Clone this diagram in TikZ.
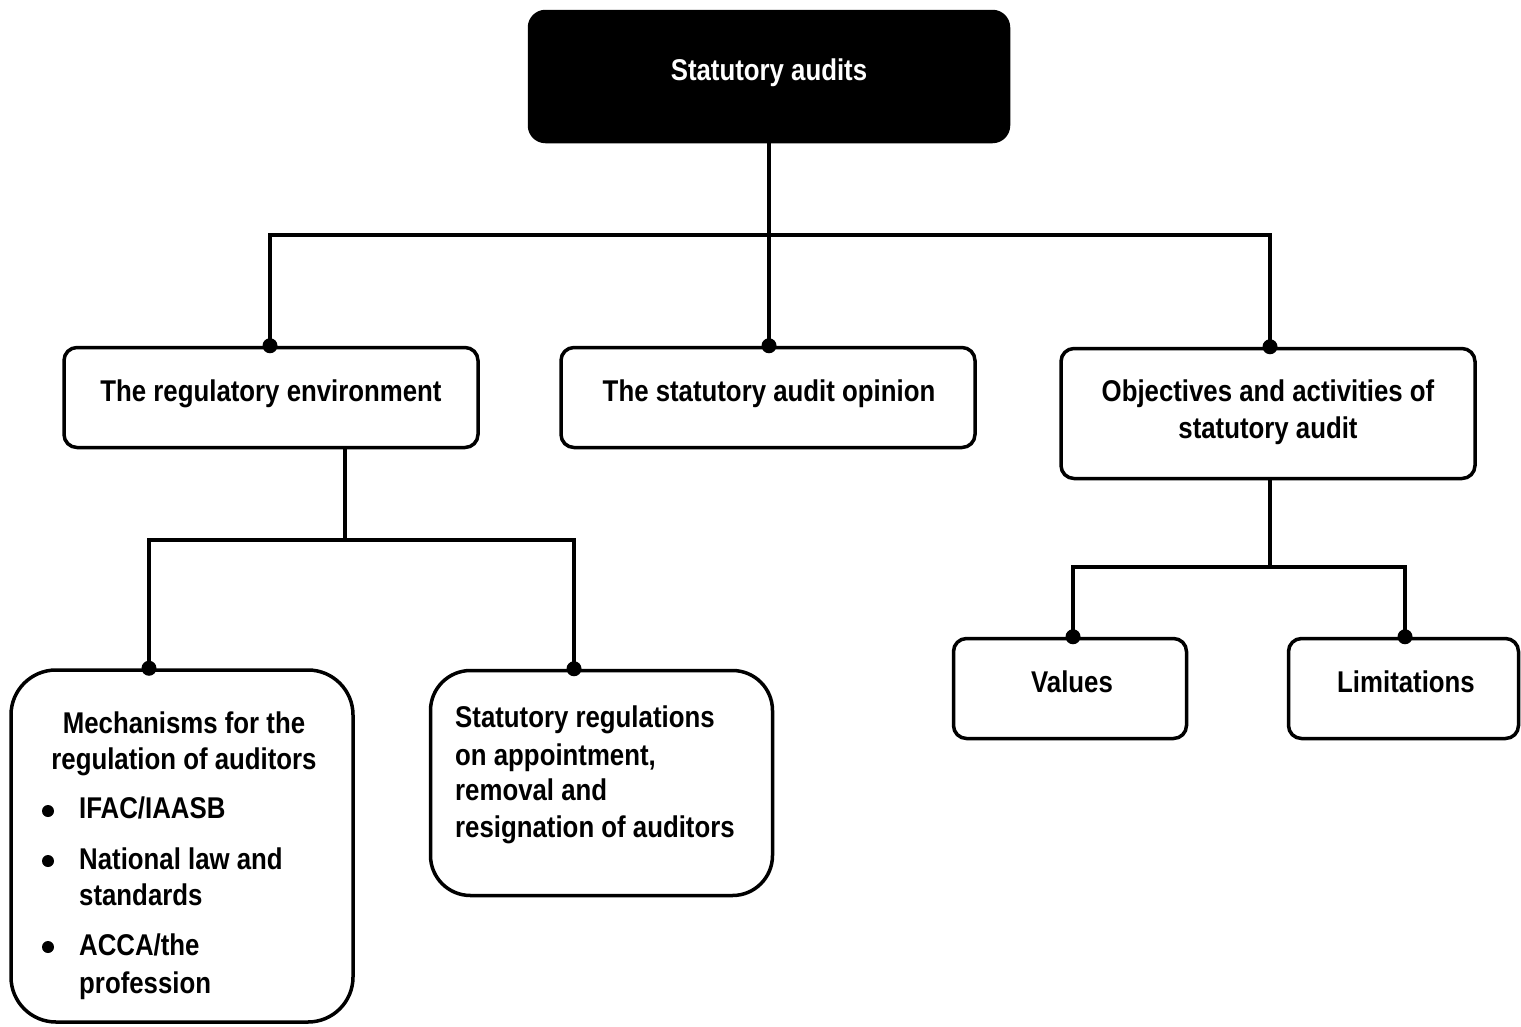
\documentclass[tikz,border=0pt]{standalone}
\usepackage{fontspec}
\setmainfont{Liberation Sans}[FakeStretch=0.86]
\begin{document}
\begin{tikzpicture}[x=1pt,y=-1pt,
  box/.style={draw, line width=3.5pt, rounded corners=13pt, inner sep=0pt},
  lbl/.style={font=\fontsize{30}{36}\selectfont\bfseries, inner sep=0pt, anchor=base},
  lbll/.style={lbl, anchor=base west},
  conn/.style={line width=3.5pt},
  dot/.style={circle, fill, inner sep=0pt, minimum size=15pt},
  bul/.style={circle, fill, inner sep=0pt, minimum size=12pt}]
\useasboundingbox (0,0) rectangle (1521,1026);
% boxes
\node[box, fill=black, rounded corners=16pt, minimum width=479pt, minimum height=130pt] (top) at (769,76.5) {};
\node[box, minimum width=414pt, minimum height=100pt] (A) at (271,397.5) {};
\node[box, minimum width=414pt, minimum height=100pt] (B) at (768,397.5) {};
\node[box, minimum width=414pt, minimum height=130pt] (C) at (1268,413.5) {};
\node[box, rounded corners=45pt, minimum width=342pt, minimum height=352pt] (D) at (182,846) {};
\node[box, rounded corners=40pt, minimum width=342pt, minimum height=225pt] (E) at (601.5,783) {};
\node[box, minimum width=233pt, minimum height=100pt] (F) at (1070,688.5) {};
\node[box, minimum width=230pt, minimum height=100pt] (G) at (1403.5,688.5) {};
% texts
\node[lbl, text=white] (topt) at (769,80) {Statutory audits};
\node[lbl] (At) at (271,401) {The regulatory environment};
\node[lbl] (Bt) at (769,401) {The statutory audit opinion};
\node[lbl] (Ct1) at (1268,401) {Objectives and activities of};
\node[lbl] (Ct2) at (1268,438) {statutory audit};
\node[lbl] (Ft) at (1072,692) {Values};
\node[lbl] (Gt) at (1406,692) {Limitations};
\node[lbl] (Dt1) at (184,733) {Mechanisms for the};
\node[lbl] (Dt2) at (184,769) {regulation of auditors};
\node[lbll] (Dt3) at (79,818) {IFAC/IAASB};
\node[lbll] (Dt4) at (79,869) {National law and};
\node[lbll] (Dt5) at (79,905) {standards};
\node[lbll] (Dt6) at (79,955) {ACCA/the};
\node[lbll] (Dt7) at (79,993) {profession};
\node[bul] (b1) at (48,811) {};
\node[bul] (b2) at (48,861) {};
\node[bul] (b3) at (48,947) {};
\node[lbll] (Et1) at (455,727) {Statutory regulations};
\node[lbll] (Et2) at (455,765) {on appointment,};
\node[lbll] (Et3) at (455,800) {removal and};
\node[lbll] (Et4) at (455,837) {resignation of auditors};
% connector points
\coordinate (h1) at (769,235);
\coordinate (dA) at ([xshift=-1pt]A.north);
\coordinate (dB) at ([xshift=1pt]B.north);
\coordinate (dC) at ([xshift=2pt]C.north);
\coordinate (a0) at ([xshift=74pt]A.south);
\coordinate (h2) at (345,540);
\coordinate (dD) at ([xshift=-33pt]D.north);
\coordinate (dE) at ([xshift=-27.5pt]E.north);
\coordinate (c0) at ([xshift=2pt]C.south);
\coordinate (h3) at (1270,567);
\coordinate (dF) at ([xshift=3pt]F.north);
\coordinate (dG) at ([xshift=1.5pt]G.north);
% connectors
\draw[conn] (top.south -| dB) -- (dB);
\draw[conn] (dA) |- (h1) -| (dC);
\draw[conn] (a0) -- (h2);
\draw[conn] (dD) |- (h2) -| (dE);
\draw[conn] (c0) -- (h3);
\draw[conn] (dF) |- (h3) -| (dG);
% dots
\foreach \p in {dA,dB,dC,dD,dE,dF,dG} \node[dot] at (\p) {};
\end{tikzpicture}
\end{document}
